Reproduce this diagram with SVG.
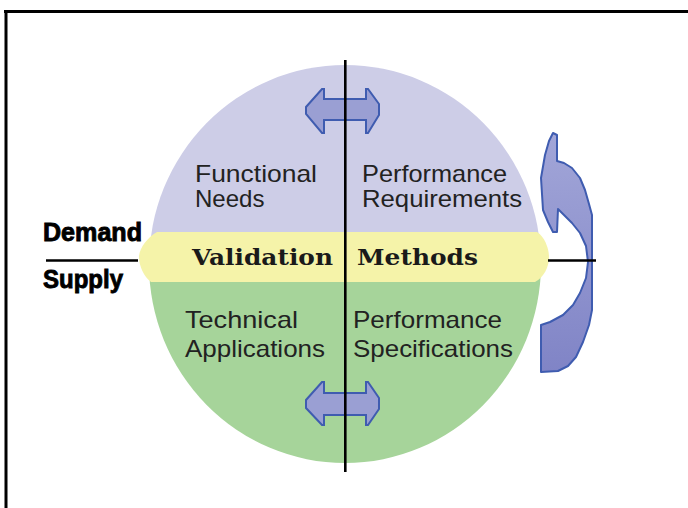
<svg xmlns="http://www.w3.org/2000/svg" width="688" height="508" viewBox="0 0 688 508">
<defs>
<style>
.q{font-family:"Liberation Sans",Arial,sans-serif;font-size:24px;fill:#222}
.b{font-family:"DejaVu Serif","Liberation Serif",serif;font-size:23px;font-weight:bold;fill:#1a1a1a}
.ds{font-family:"Liberation Sans",Arial,sans-serif;font-size:26px;font-weight:bold;fill:#000;stroke:#000;stroke-width:0.9}
.arr{fill:#9a9fd3;stroke:#3f5cb0;stroke-width:2;stroke-linejoin:miter}
.ln{stroke:#000;fill:none}
</style>
<linearGradient id="cg" x1="0" y1="0" x2="0" y2="1">
<stop offset="0" stop-color="#a2a6d8"/>
<stop offset="1" stop-color="#8084c6"/>
</linearGradient>
</defs>
<rect width="688" height="508" fill="#fff"/>
<g id="frame">
<rect x="4" y="10" width="684" height="3" fill="#000"/>
<rect x="4.5" y="10" width="3" height="498" fill="#000"/>
</g>
<g id="circle">
<path d="M149,264 A196,199 0 0 1 541,264 Z" fill="#cdcde7"/>
<path d="M149,264 A196,199 0 0 0 541,264 Z" fill="#a6d49a"/>
</g>
<g id="band">
<path d="M157,232 H537 C545,237 549,249 549,257 C549,267 544,277 535,282 H151 C144,277 139,266 139,257 C139,248 148,237 157,232 Z" fill="#f5f3a9"/>
<text class="b" x="192" y="265" textLength="141" lengthAdjust="spacingAndGlyphs">Validation</text>
<text class="b" x="357" y="265" textLength="121" lengthAdjust="spacingAndGlyphs">Methods</text>
</g>
<g id="functional-needs">
<text class="q" x="195" y="182" textLength="122" lengthAdjust="spacingAndGlyphs">Functional</text>
<text class="q" x="195" y="207">Needs</text>
</g>
<g id="performance-requirements">
<text class="q" x="362" y="182" textLength="145" lengthAdjust="spacingAndGlyphs">Performance</text>
<text class="q" x="362" y="207" textLength="160" lengthAdjust="spacingAndGlyphs">Requirements</text>
</g>
<g id="technical-applications">
<text class="q" x="185" y="328" textLength="113" lengthAdjust="spacingAndGlyphs">Technical</text>
<text class="q" x="185" y="357" textLength="140" lengthAdjust="spacingAndGlyphs">Applications</text>
</g>
<g id="performance-specifications">
<text class="q" x="353" y="328" textLength="149" lengthAdjust="spacingAndGlyphs">Performance</text>
<text class="q" x="353" y="357" textLength="160" lengthAdjust="spacingAndGlyphs">Specifications</text>
</g>
<g id="demand-supply">
<text class="ds" x="43" y="241" textLength="99" lengthAdjust="spacingAndGlyphs">Demand</text>
<text class="ds" x="43" y="288" textLength="80" lengthAdjust="spacingAndGlyphs">Supply</text>
</g>
<g id="connectors">
<path class="arr" d="M306,107 L322,89 L324,89 L324,99 L366,99 L366,89 L368,89 L379,104 L379,115 L368,133 L366,133 L366,120 L324,120 L324,133 L322,133 L306,114 Z"/>
<path class="arr" d="M306,400 L322,382 L324,382 L324,393 L366,393 L366,382 L368,382 L379,398 L379,409 L368,425 L366,425 L366,415 L324,415 L324,425 L322,425 L306,408 Z"/>
<path d="M553,133 L557,135 L557,161 L564,163 L572,168 L580,178 L585,190 L589,204 L592,215 L592,310 L589,325 L583,342 L576,357 L568,366 L558,371 L541,372 L541,325 L550,322 L563,315 L573,305 L580,293 L586,278 L588,262 L586,246 L580,233 L572,223 L565,216 L558,209 L557,232 L553,232 L548,222 L543,210 L541,178 L545,155 L549,141 Z" fill="url(#cg)" stroke="#3f5cb0" stroke-width="2" stroke-linejoin="round"/>
<line class="ln" x1="46" y1="260.5" x2="138" y2="260.5" stroke-width="2.5"/>
<line class="ln" x1="548" y1="260.5" x2="596" y2="260.5" stroke-width="2.5"/>
<line class="ln" x1="345.3" y1="60" x2="345.3" y2="472" stroke-width="2.6"/>
</g>
</svg>
